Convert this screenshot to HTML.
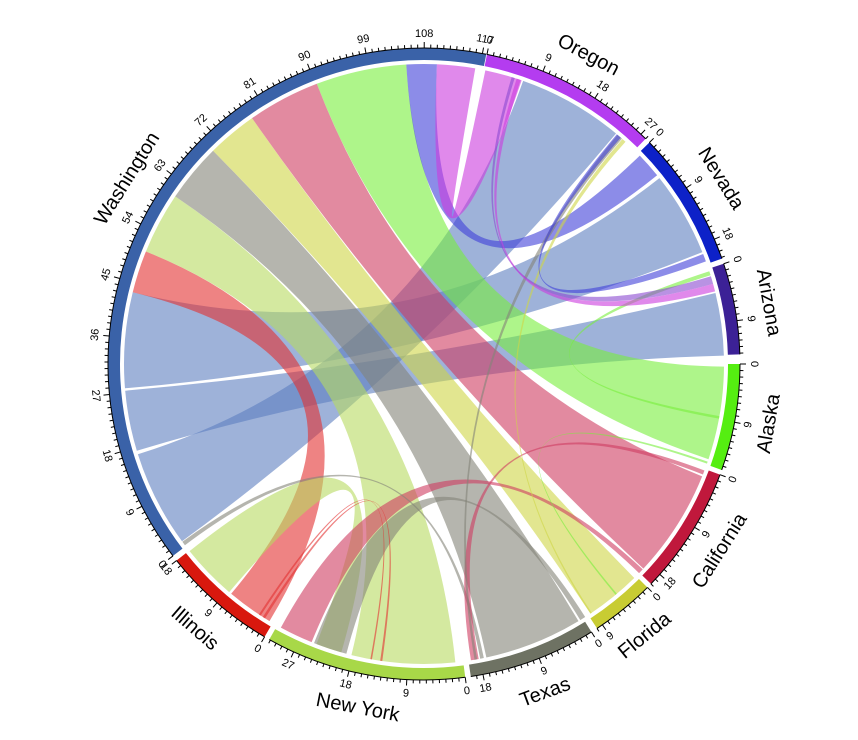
<!DOCTYPE html>
<html><head><meta charset="utf-8"><style>
html,body{margin:0;padding:0;background:#fff;}
svg{display:block;font-family:"Liberation Sans",sans-serif;}
</style></head><body>
<svg id="s" width="858" height="740" viewBox="0 0 858 740"></svg>
<script>
const CX=424,CY=364,RO=316,RI=304,RC=300,K=1.18;
const s=document.getElementById('s');
const NS='http://www.w3.org/2000/svg';
function el(t,a,txt){const e=document.createElementNS(NS,t);for(const k in a)e.setAttribute(k,a[k]);if(txt!==undefined)e.textContent=txt;s.appendChild(e);return e;}
function P(a,r){const t=a*Math.PI/180;return [CX+r*Math.sin(t),CY-r*Math.cos(t)];}
function f(p){return p[0].toFixed(2)+','+p[1].toFixed(2);}
const W=u=>232.6+u*1.17;
// chords: [a1,a2,b1,b2,color,opacity]
const C=[
[W(1),W(17),19.3,39.8,'#5d7fc0'],
[W(17.6),W(27.6),76.3,88.4,'#5d7fc0'],
[W(28),W(43.8),51.7,68.1,'#5d7fc0'],
[W(43.8),W(50.8),211,220,'#e23030'],
[W(50.8),W(61),174,194,'#b7da61'],
[W(61),W(70.7),149,168,'#848478'],
[W(70.7),W(79),135.5,146.3,'#cfd546'],
[W(79),W(91),112,133,'#cf3c61'],
[W(91),W(106),90.5,108.5,'#78ee3c'],
[W(106),W(111),46,51,'#3f3fd8'],
[W(111),W(117.3),11.8,19,'#cb3bdd'],
[220.5,231.4,196,201,'#b7da61'],
[202,208.5,133.2,134.2,'#cf3c61'],
[195,201.5,147.5,148.6,'#848478'],
[W(0.2),W(0.9),168.5,169.2,'#848478'],
[110.8,111.6,169.5,171,'#cf3c61'],
[40.2,41.3,169.8,170.3,'#848478'],
[41.4,42.2,146,146.3,'#cfd546'],
[72,72.8,100,100.5,'#78ee3c'],
[73,74.5,17,17.6,'#8a4ad0'],
[74.5,76,18,18.8,'#cb3bdd'],
[212,212.5,188,188.4,'#e23030'],
[213,213.4,190,190.3,'#e23030'],
[109,109.4,140,140.3,'#78ee3c'],
[68.5,70,40,41,'#3f3fd8']
];
for(const c of C){
 const a1=P(c[0],RC),a2=P(c[1],RC),b1=P(c[2],RC),b2=P(c[3],RC);
 const la=(c[1]-c[0])>180?1:0, lb=(c[3]-c[2])>180?1:0;
 const d=`M${f(a1)}A${RC},${RC} 0 ${la} 1 ${f(a2)}Q${CX},${CY} ${f(b1)}A${RC},${RC} 0 ${lb} 1 ${f(b2)}Q${CX},${CY} ${f(a1)}Z`;
 el('path',{d,fill:c[4],'fill-opacity':0.6,stroke:'none'});
}
// groups: name,start,units,color
const G=[
['Washington',232.6,117.6,'#3a62a8'],
['Oregon',11.5,28,'#b43cf0'],
['Nevada',45.5,21.2,'#0d21c8'],
['Arizona',71.5,14.2,'#3c2196'],
['Alaska',90,16.6,'#55ee11'],
['California',110.5,20,'#c0183c'],
['Florida',135,10,'#c8cc33'],
['Texas',148,19.9,'#6e7263'],
['New York',172.5,31.2,'#a8d848'],
['Illinois',210.3,18,'#d8180e']
];
function rot(a){a=((a%360)+360)%360;return (a>90&&a<270)?a-180:a;}
for(const g of G){
 const a0=g[1],a1=g[1]+g[2]*K;
 const o0=P(a0,RO),o1=P(a1,RO),i0=P(a0,RI),i1=P(a1,RI);
 el('path',{d:`M${f(o0)}A${RO},${RO} 0 0 1 ${f(o1)}L${f(i1)}A${RI},${RI} 0 0 0 ${f(i0)}Z`,fill:g[3]});
 el('path',{d:`M${f(o0)}A${RO},${RO} 0 0 1 ${f(o1)}`,fill:'none',stroke:'#000','stroke-width':1});
 for(let u=0;u<=g[2]+0.01;u++){
  const a=a0+u*K;const maj=u%9==0;
  const p1=P(a,RO),p2=P(a,RO+(maj?6:3.5));
  el('line',{x1:p1[0],y1:p1[1],x2:p2[0],y2:p2[1],stroke:'#000','stroke-width':1});
  if(maj){const q=P(a,RO+14);el('text',{x:q[0],y:q[1],'font-size':11,'text-anchor':'middle','dominant-baseline':'central',transform:`rotate(${rot(a)} ${q[0]} ${q[1]})`},String(u));}
 }
 const m=(a0+a1)/2,q=P(m,RO+34);
 el('text',{x:q[0],y:q[1],'font-size':20,'text-anchor':'middle','dominant-baseline':'central',transform:`rotate(${rot(m)} ${q[0]} ${q[1]})`},g[0]);
}
</script>
</body></html>
